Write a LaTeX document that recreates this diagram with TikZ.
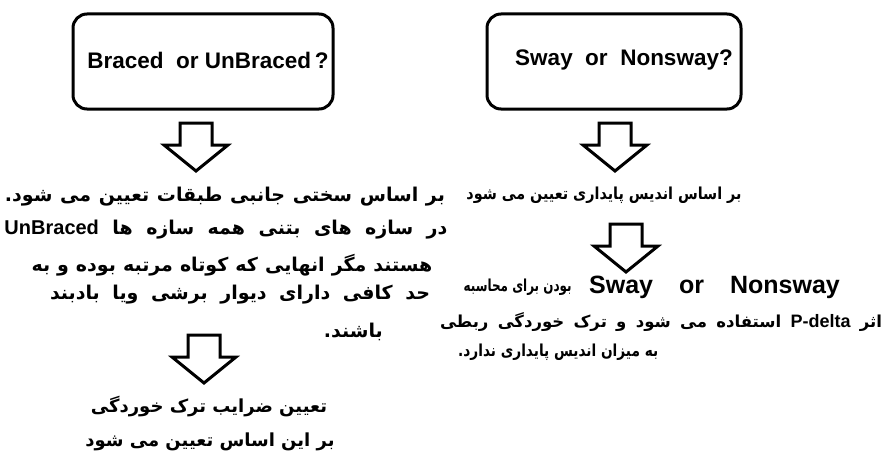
\documentclass[tikz,border=0pt]{standalone}
\usepackage{fontspec}
\usepackage{graphicx}
\setmainfont{Liberation Sans}
\newfontfamily\fafont[Script=Arabic]{DejaVu Sans}
\newfontfamily\lafont{Liberation Sans}
\TeXXeTstate=1
% a justified line: inter-word spaces stretched to the given width
\newcommand{\justline}[2]{\makebox[#1][s]{#2}}
% a line narrowed to the given width, keeping its height
\newcommand{\narrowline}[2]{\resizebox{#1}{\height}{#2}}
\begin{document}
\begin{tikzpicture}[x=1pt,y=-1pt,
  qbox/.style={draw, line width=3pt, rounded corners=14pt, fill=white},
  qtext/.style={font=\lafont\bfseries\fontsize{22.5}{26}\selectfont, inner sep=0pt},
  fa/.style={font=\fafont\bfseries\fontsize{19}{22}\selectfont, inner sep=0pt},
  fabottom/.style={font=\fafont\bfseries\fontsize{18}{22}\selectfont, inner sep=0pt},
  faright/.style={font=\fafont\bfseries\fontsize{16.5}{20}\selectfont, inner sep=0pt},
  downarrow/.pic={
    \draw[line width=3pt, line join=miter, fill=white]
      (-16,0) -- (16,0) -- (16,22) -- (32,22) -- (0,48) -- (-32,22) -- (-16,22) -- cycle;
  }]
\useasboundingbox (0,0) rectangle (893,452);
\fill[white] (0,0) rectangle (893,452);

% question boxes
\draw[qbox] (73,14) rectangle (333,109);
\node[qtext] (qbraced) at (208,60) {Braced\ \ or UnBraced\,?};
\draw[qbox] (487,14) rectangle (741,109);
\node[qtext] (qsway) at (624,60) {Sway\ \ or\ \ Nonsway?};

% left column
\pic at (196,123) {downarrow};
\node[fa] (l1) at (225,197) {\justline{440pt}{\beginR بر اساس سختی جانبی طبقات تعیین می شود.\endR}};
\node[fa] (l2) at (226,230) {\justline{443pt}{\beginR در سازه های بتنی همه سازه ها \beginL{\lafont\fontsize{20}{24}\selectfont UnBraced}\endL{}\endR}};
\node[fa] (l3) at (232,265) {\justline{401pt}{\beginR هستند مگر انهایی که کوتاه مرتبه بوده و به\endR}};
\node[fa] (l4) at (240,295) {\justline{380pt}{\beginR حد کافی دارای دیوار برشی ویا بادبند\endR}};
\node[fa, anchor=east] (l5) at (383,332) {\beginR باشند.\endR};
\pic at (204,335) {downarrow};
\node[fabottom] (l6) at (209,407) {\beginR تعیین ضرایب ترک خوردگی\endR};
\node[fabottom] (l7) at (210,442) {\beginR بر این اساس تعیین می شود\endR};

% right column
\pic at (615,123) {downarrow};
\node[faright] (r1) at (604,195) {\narrowline{275pt}{\beginR بر اساس اندیس پایداری تعیین می شود\endR}};
\pic at (626,224) {downarrow};
\node[inner sep=0pt, font=\lafont\bfseries\fontsize{25}{30}\selectfont, anchor=east] (raen) at (840,287) {Sway\hspace{26pt}or\hspace{26pt}Nonsway};
\node[faright, anchor=east] (rafa) at ([xshift=-17pt]raen.west) {\narrowline{108pt}{\beginR بودن برای محاسبه\endR}};
\node[faright] (rb) at (661,322) {\justline{442pt}{\beginR اثر \beginL{\lafont\fontsize{18}{22}\selectfont P-delta}\endL{} استفاده می شود و ترک خوردگی ربطی\endR}};
\node[faright, anchor=west] (rc) at (458,352) {\narrowline{200pt}{\beginR به میزان اندیس پایداری ندارد.\endR}};
\end{tikzpicture}
\end{document}
